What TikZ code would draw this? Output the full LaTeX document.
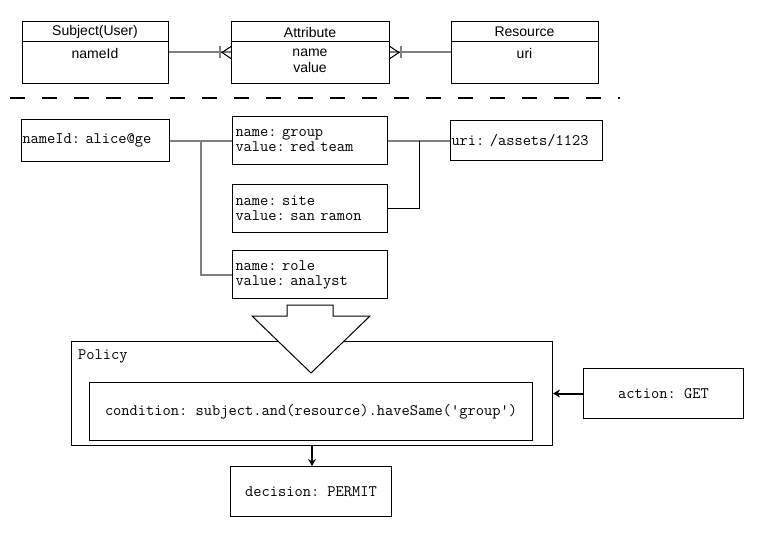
\documentclass[tikz,border=0pt]{standalone}
\usepackage{fontspec}
\setmainfont{Liberation Sans}
\newcommand\codefont{\ttfamily\frenchspacing\fontsize{16}{15}\selectfont}
\usetikzlibrary{arrows.meta,calc}

\tikzset{
  umlbox/.style={draw, line width=1pt, anchor=north west, minimum height=62},
  codebox/.style={draw, line width=1pt, anchor=north west, align=left, inner xsep=1pt, font=\codefont},
  attrbox/.style={codebox, inner xsep=3pt, text width=149, minimum height=48},
  midbox/.style={draw, line width=1pt, anchor=north west, align=center, font=\codefont},
  link/.style={draw=gray, line width=2pt},
  flow/.style={line width=2pt, -{Stealth[length=7pt,width=8pt]}}
}

\begin{document}
\begin{tikzpicture}[x=1pt,y=-1pt,font=\fontsize{14}{16}\selectfont]
\fill[white] (0,0) rectangle (763,535);

% model
\node[umlbox, minimum width=146] (subj) at (22,21) {};
\node[umlbox, minimum width=158] (attr) at (231,21) {};
\node[umlbox, minimum width=147] (res) at (451,21) {};
\foreach \c in {subj,attr,res}
  \draw[line width=1pt] ([yshift=-21pt]\c.north west) -- ([yshift=-21pt]\c.north east);

\node (subjname) at (95,32) {Subject(User)};
\node (subjid) at (95,53) {nameId};
\node (attrname) at (310,32) {Attribute};
\node[align=center] (attrkeys) at (310,61) {name\\value};
\node (resname) at (524.5,32) {Resource};
\node (resuri) at (524.5,53) {uri};

\draw[link] (subj.east) -- (attr.west);
\draw[link] ([xshift=-11pt,yshift=6pt]attr.west) -- ++(0,12);
\draw[line width=1pt] ([yshift=6pt]attr.west) -- ([xshift=-9pt]attr.west) -- ([yshift=-6pt]attr.west);
\draw[link] (attr.east) -- (res.west);
\draw[link] ([xshift=11pt,yshift=6pt]attr.east) -- ++(0,12);
\draw[line width=1pt] ([yshift=6pt]attr.east) -- ([xshift=9pt]attr.east) -- ([yshift=-6pt]attr.east);

%-------------------------------------
\coordinate (cutl) at (10,98);
\coordinate (cutr) at (620,98);
\draw[line width=2pt, dash pattern=on 15pt off 17pt] (cutl) -- (cutr);

% instances
\node[codebox, text width=146, minimum height=42] (nameid) at (21,119) {nameId: alice@ge};
\node[attrbox] (group) at (232,116) {name: group\\value: red team};
\node[attrbox] (site) at (232,184) {name: site\\value: san ramon};
\node[attrbox] (role) at (232,250) {name: role\\value: analyst};
\node[codebox, text width=150, minimum height=40] (uri) at (450,120) {uri: /assets/1123};

\coordinate (subjfork) at ($(nameid.east)!.5!(group.west)$);
\coordinate (resfork) at ($(group.east)!.5!(uri.west)$);
\draw[link] (nameid.east) -- (group.west);
\draw[link] (subjfork) |- (role.west);
\draw[link] (group.east) -- (uri.west);
\draw[line width=1pt] (resfork) |- (site.east);

%-------------------------------------
\node[draw, line width=1pt, anchor=north west, minimum width=481, minimum height=104] (policy) at (71,341) {};
\node[anchor=west, inner sep=0pt, font=\codefont] (policyname) at (78,356) {Policy};
\node[midbox, minimum width=443, minimum height=58] (cond) at (89,382) {condition: subject.and(resource).haveSame('group')};
\node[midbox, minimum width=161, minimum height=50] (decision) at (230,466) {decision: PERMIT};
\node[midbox, minimum width=160, minimum height=50] (action) at (583,368) {action: GET};

\draw[line width=1pt, fill=white] (287,305) -- (333,305) -- (333,316) -- (370,316) -- (311,373)
  -- (252,316) -- (287,316) -- cycle;

\draw[flow] (action.west) -- (policy.east);
\draw[flow] (policy.south) -- (policy.south |- decision.north);
\end{tikzpicture}
\end{document}
